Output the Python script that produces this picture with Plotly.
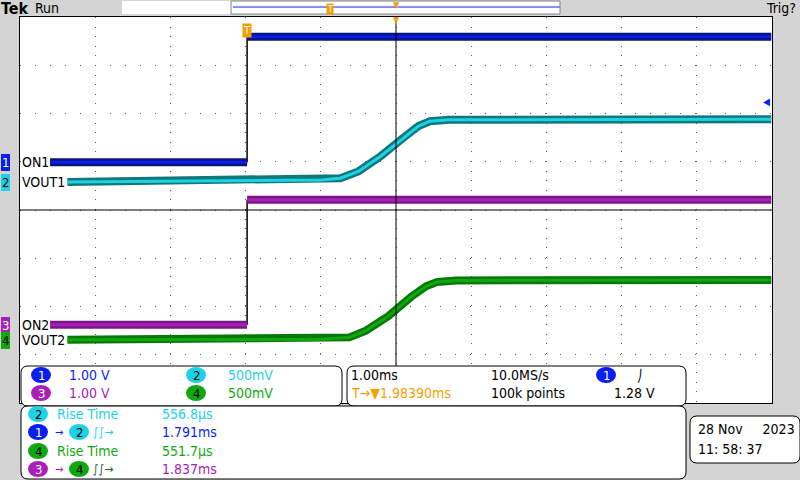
import plotly.graph_objects as go

# time in ms (1 ms/div), amplitude in divisions; None splits the step edge
ch1_t = [-4.6, -1.98, None, -1.98, 4.99]
ch1_v = [0.99, 0.99, None, 3.59, 3.59]
ch2_t = [-4.37, -1.0, -0.74, -0.5, -0.2, 0.1, 0.3, 0.45, 0.7, 4.99]
ch2_v = [0.58, 0.62, 0.66, 0.8, 1.12, 1.5, 1.74, 1.84, 1.87, 1.88]
ch3_t = [-4.6, -1.98, None, -1.98, 4.99]
ch3_v = [-2.38, -2.38, None, 0.21, 0.21]
ch4_t = [-4.37, -1.0, -0.62, -0.4, -0.1, 0.2, 0.4, 0.55, 0.8, 4.99]
ch4_v = [-2.69, -2.68, -2.64, -2.5, -2.2, -1.8, -1.58, -1.49, -1.46, -1.45]
edge_t = [-1.98, -1.98]
edge1_v = [0.99, 3.59]
edge3_v = [-2.38, 0.21]

colors = {"1": "#0a1ef0", "2": "#1ed2e6", "3": "#a820b8", "4": "#10a810"}
dark = {"1": "#0a1478", "2": "#107878", "3": "#781888", "4": "#087808"}

W, H = 800, 480
def px(x): return x / W
def py(y): return 1 - y / H

fig = go.Figure()
fig.add_trace(go.Scatter(x=edge_t, y=edge1_v, mode="lines", line=dict(color="black", width=1.5), hoverinfo="skip"))
fig.add_trace(go.Scatter(x=edge_t, y=edge3_v, mode="lines", line=dict(color="black", width=1.5), hoverinfo="skip"))
for k, (t, v) in {"1": (ch1_t, ch1_v), "2": (ch2_t, ch2_v), "3": (ch3_t, ch3_v), "4": (ch4_t, ch4_v)}.items():
    fig.add_trace(go.Scatter(x=t, y=v, mode="lines", line=dict(color=dark[k], width=8), hoverinfo="skip"))
    fig.add_trace(go.Scatter(x=t, y=v, mode="lines", line=dict(color=colors[k], width=3), hoverinfo="skip"))

font = "Liberation Sans Narrow, DejaVu Sans Condensed, Arial"
shapes, ann = [], []

def rrect(x0, y0, x1, y1, r=7, color="black", fill="white"):
    X0, X1 = px(x0), px(x1)
    Y0, Y1 = py(y0), py(y1)
    rx, ry = r / W, r / H
    p = (f"M{X0+rx},{Y0} L{X1-rx},{Y0} Q{X1},{Y0} {X1},{Y0-ry} L{X1},{Y1+ry} Q{X1},{Y1} {X1-rx},{Y1} "
         f"L{X0+rx},{Y1} Q{X0},{Y1} {X0},{Y1+ry} L{X0},{Y0-ry} Q{X0},{Y0} {X0+rx},{Y0} Z")
    shapes.append(dict(type="path", xref="paper", yref="paper", path=p, line=dict(color=color, width=1), fillcolor=fill))

def txt(x, y, s, color="black", size=14, anchor="left", bg=None, border=None):
    ann.append(dict(x=px(x), y=py(y), xref="paper", yref="paper", text=s, showarrow=False,
                    xanchor=anchor, yanchor="middle", font=dict(family=font, size=size, color=color),
                    bgcolor=bg, bordercolor=border, borderpad=0))

# center lines
shapes.append(dict(type="line", xref="x", yref="y", x0=0, x1=0, y0=-4, y1=4, line=dict(color="black", width=1)))
shapes.append(dict(type="line", xref="x", yref="y", x0=-5, x1=5, y0=0, y1=0, line=dict(color="black", width=1)))

# top bar
shapes.append(dict(type="rect", xref="paper", yref="paper", x0=px(122), x1=px(560), y0=py(14), y1=py(1), fillcolor="white", line=dict(width=0)))
shapes.append(dict(type="line", xref="paper", yref="paper", x0=px(233), x1=px(560), y0=py(7), y1=py(7), line=dict(color="#0a1ef0", width=1)))
shapes.append(dict(type="rect", xref="paper", yref="paper", x0=px(231), x1=px(560), y0=py(14), y1=py(1), line=dict(color="#808080", width=1)))
txt(0, 8, "<b>Tek</b>", size=16)
txt(34, 8, "Run", size=14)
txt(797, 8, "Trig?", size=14, anchor="right")
txt(330, 9, "T", color="white", size=9, anchor="center", bg="#f5a000")
txt(396, 5, "▼", color="#f5a000", size=9, anchor="center")
txt(396, 20, "▼", color="#f5a000", size=9, anchor="center")
txt(247, 31, "T", color="white", size=11, anchor="center", bg="#f5a000")
txt(766, 101, "◀", color="#0a1ef0", size=10, anchor="center")

# channel markers
for ch, y, lab in [("1", 162, "ON1"), ("2", 182, "VOUT1"), ("3", 325, "ON2"), ("4", 340, "VOUT2")]:
    txt(1, y, ch, color="white" if ch in "13" else "black", size=13, bg=colors[ch], border=colors[ch])
    txt(21, y, lab, size=14)

# panels
rrect(21, 366, 342, 406)
rrect(347, 366, 686, 406)
rrect(21, 406, 686, 479)
rrect(690, 416, 800, 463)

def badge(x, y, ch):
    shapes.append(dict(type="circle", xref="paper", yref="paper", x0=px(x - 10), x1=px(x + 10),
                       y0=py(y + 8), y1=py(y - 8), fillcolor=colors[ch], line=dict(width=0)))
    txt(x, y, ch, color="white" if ch in "13" else "black", size=13, anchor="center")

badge(41, 375, "1"); txt(68, 375, "1.00 V", colors["1"])
badge(41, 393, "3"); txt(68, 393, "1.00 V", colors["3"])
badge(196, 375, "2"); txt(227, 375, "500mV", colors["2"])
badge(196, 393, "4"); txt(227, 393, "500mV", colors["4"])
txt(350, 375, "1.00ms"); txt(490, 375, "10.0MS/s")
badge(606, 375, "1"); txt(636, 375, "⎠", size=12)
txt(350, 393, "<span style='color:#f5a000'>T→▼1.98390ms</span>")
txt(490, 393, "100k points"); txt(656, 393, "1.28 V", anchor="right")

badge(38, 414, "2"); txt(56, 414, "Rise Time", colors["2"]); txt(161, 414, "556.8µs", colors["2"])
badge(38, 432, "1"); txt(54, 432, "→", colors["1"], size=11); badge(79, 432, "2"); txt(92, 432, "∫∫→", colors["2"], size=12); txt(161, 432, "1.791ms", colors["1"])
badge(38, 451, "4"); txt(56, 451, "Rise Time", colors["4"]); txt(161, 451, "551.7µs", colors["4"])
badge(38, 469, "3"); txt(54, 469, "→", colors["3"], size=11); badge(79, 469, "4"); txt(92, 469, "∫∫→", "#206030", size=12); txt(161, 469, "1.837ms", colors["3"])
txt(697, 429, "28 Nov&nbsp;&nbsp;&nbsp;&nbsp;&nbsp;2023")
txt(697, 449, "11: 58: 37")

fig.update_layout(
    width=W, height=H, margin=dict(l=0, r=0, t=0, b=0),
    paper_bgcolor="#d4d4d4", plot_bgcolor="white", showlegend=False,
    shapes=shapes, annotations=ann,
    xaxis=dict(domain=[px(20), px(772)], range=[-5, 5], dtick=1, showticklabels=False, zeroline=False,
               gridcolor="#606060", griddash="1px,8.6px", gridwidth=1, showline=True, linecolor="black", mirror=True),
    yaxis=dict(domain=[py(403), py(17)], range=[-4, 4], dtick=1, showticklabels=False, zeroline=False,
               gridcolor="#606060", griddash="1px,14px", gridwidth=1, showline=True, linecolor="black", mirror=True),
)
fig.write_html("out.html", config={"displayModeBar": False},
               post_script="document.body.style.margin='0';document.body.style.overflow='hidden';")
